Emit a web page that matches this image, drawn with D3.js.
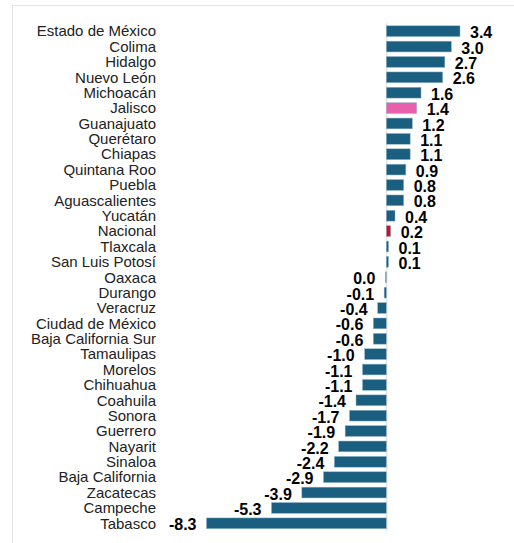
<!DOCTYPE html>
<html>
<head>
<meta charset="utf-8">
<script src="https://cdn.jsdelivr.net/npm/d3@7"></script>
<style>
  body { margin: 0; background: #fff; }
</style>
</head>
<body>
<div id="chart"></div>
<script>
// states, ordered top to bottom
var estados = ["Estado de México", "Colima", "Hidalgo", "Nuevo León", "Michoacán", "Jalisco",
  "Guanajuato", "Querétaro", "Chiapas", "Quintana Roo", "Puebla", "Aguascalientes", "Yucatán",
  "Nacional", "Tlaxcala", "San Luis Potosí", "Oaxaca", "Durango", "Veracruz", "Ciudad de México",
  "Baja California Sur", "Tamaulipas", "Morelos", "Chihuahua", "Coahuila", "Sonora", "Guerrero",
  "Nayarit", "Sinaloa", "Baja California", "Zacatecas", "Campeche", "Tabasco"];

var valores = [3.4, 3.0, 2.7, 2.6, 1.6, 1.4, 1.2, 1.1, 1.1, 0.9, 0.8, 0.8, 0.4,
  0.2, 0.1, 0.1, -0.04, -0.1, -0.4, -0.6, -0.6, -1.0, -1.1, -1.1, -1.4, -1.7, -1.9,
  -2.2, -2.4, -2.9, -3.9, -5.3, -8.3];

var etiquetas = ["3.4", "3.0", "2.7", "2.6", "1.6", "1.4", "1.2", "1.1", "1.1", "0.9", "0.8", "0.8", "0.4",
  "0.2", "0.1", "0.1", "0.0", "-0.1", "-0.4", "-0.6", "-0.6", "-1.0", "-1.1", "-1.1", "-1.4", "-1.7", "-1.9",
  "-2.2", "-2.4", "-2.9", "-3.9", "-5.3", "-8.3"];

var data = estados.map(function(d, i) { return {name: d, value: valores[i], label: etiquetas[i]}; });

function barColor(name) {
  if (name == "Jalisco") return "#ea5fab";
  if (name == "Nacional") return "#c8102e";
  return "#1a5e80";
}

var svg = d3.select("#chart")
    .append("svg")
    .attr("width", 514)
    .attr("height", 543);

// frame
svg.append("path")
    .attr("d", "M12.5,560 V5.5 H520")
    .style("fill", "none")
    .style("stroke", "#e3e3e3")
    .style("stroke-width", 1);

var x = d3.scaleLinear()
    .domain([-8.3, 3.4])
    .range([206.5, 460]);

var y = d3.scaleBand()
    .domain(estados)
    .range([23.5, 531])
    .paddingInner(0.3)
    .paddingOuter(0.15);

// zero line
svg.append("line")
    .attr("x1", x(0) + 0.5)
    .attr("x2", x(0) + 0.5)
    .attr("y1", 23)
    .attr("y2", 531)
    .style("stroke", "#d9d9d9")
    .style("stroke-width", 1);

// bars
svg.selectAll(".bar")
    .data(data)
    .enter()
    .append("rect")
    .attr("class", "bar")
    .attr("x", function(d) { return x(Math.min(0, d.value)); })
    .attr("width", function(d) { return Math.abs(x(d.value) - x(0)); })
    .attr("y", function(d) { return y(d.name); })
    .attr("height", y.bandwidth())
    .style("fill", function(d) { return barColor(d.name); })
    .style("stroke", "#8fb4c8")
    .style("stroke-width", 0.5);

// category labels
svg.selectAll(".cat")
    .data(data)
    .enter()
    .append("text")
    .attr("class", "cat")
    .attr("x", 156)
    .attr("y", function(d) { return y(d.name) + y.bandwidth() / 2; })
    .attr("dy", "0.35em")
    .attr("text-anchor", "end")
    .attr("font-family", "Liberation Sans, Arial, sans-serif")
    .attr("font-size", "15px")
    .style("fill", "#222")
    .text(function(d) { return d.name; });

// value labels
svg.selectAll(".val")
    .data(data)
    .enter()
    .append("text")
    .attr("class", "val")
    .attr("x", function(d) { return d.value > 0 ? x(d.value) + 10 : x(d.value) - 10; })
    .attr("y", function(d) { return y(d.name) + y.bandwidth() / 2 + 1.5; })
    .attr("dy", "0.35em")
    .attr("text-anchor", function(d) { return d.value > 0 ? "start" : "end"; })
    .attr("font-family", "Liberation Sans, Arial, sans-serif")
    .attr("font-size", "16px")
    .attr("font-weight", "bold")
    .style("fill", "#000")
    .text(function(d) { return d.label; });
</script>
</body>
</html>
